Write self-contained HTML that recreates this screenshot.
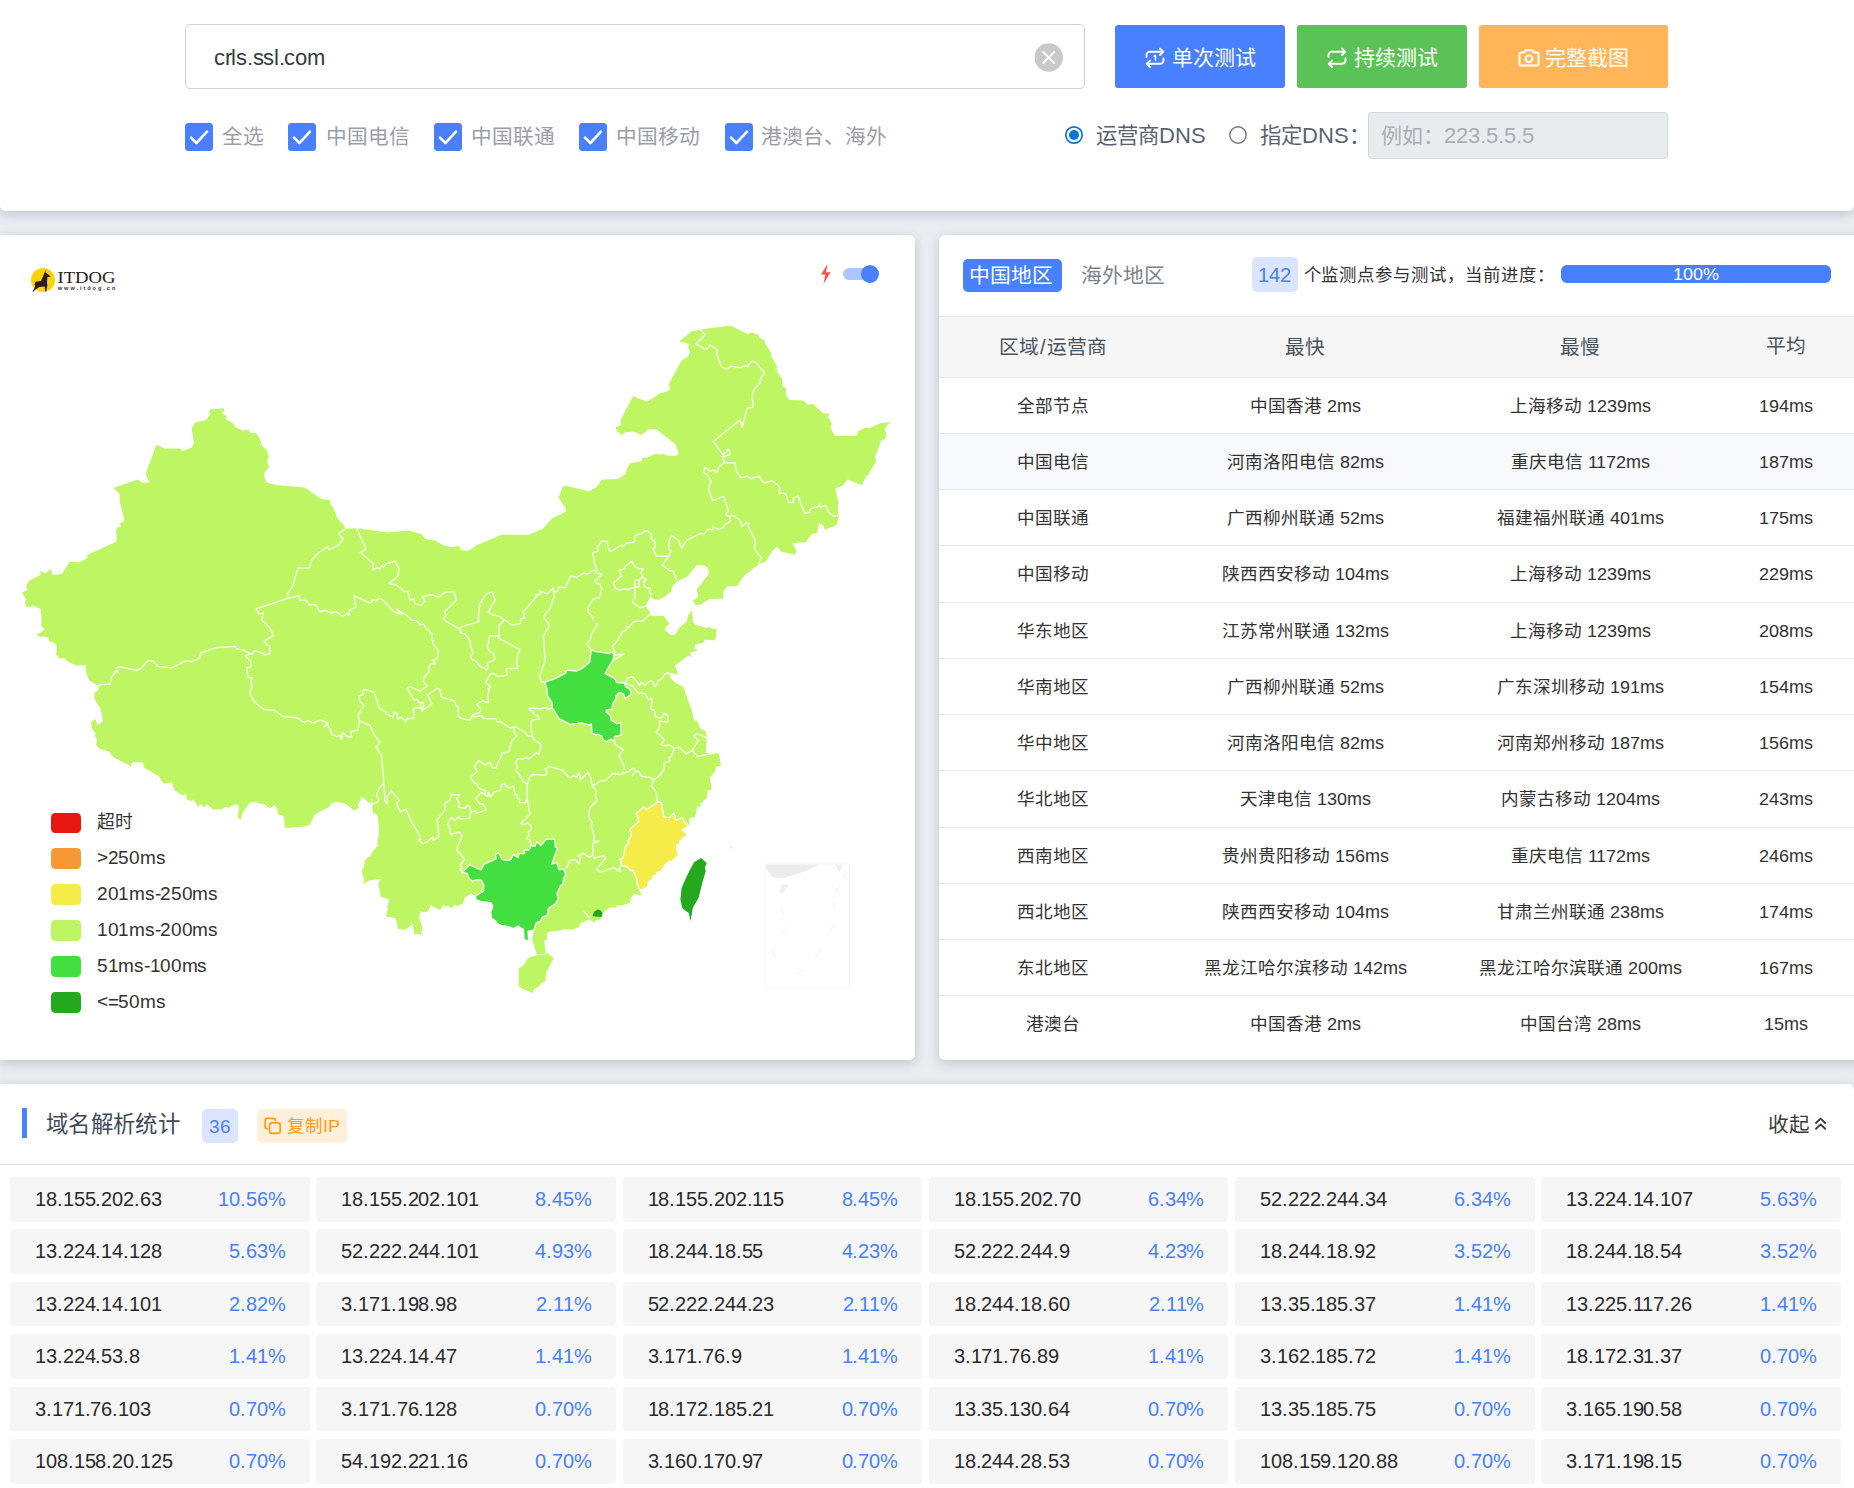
<!DOCTYPE html>
<html lang="zh-CN"><head><meta charset="utf-8"><title>itdog</title><style>
@font-face{font-family:"LS";src:local("Liberation Sans"),local("LiberationSans"),local("LiberationSans-Regular");size-adjust:104%;}
*{box-sizing:border-box;margin:0;padding:0}
html,body{width:1854px;height:1488px;overflow:hidden}
body{background:#e9ecf1;font-family:"LS","Liberation Sans",sans-serif;color:#333;position:relative}
.abs{position:absolute}
.card{position:absolute;background:#fff;box-shadow:0 3px 11px rgba(95,105,125,.30)}
.t{position:absolute;white-space:nowrap;line-height:1}
.cb{position:absolute;top:122.5px;width:28px;height:28px;border-radius:3.5px;background:#4880ff}
.cb svg{position:absolute;left:0;top:0}
.cbl{position:absolute;top:125px;font-size:20.7px;color:#9a9ea8;white-space:nowrap;line-height:24px}
.btn{position:absolute;top:25px;height:62.5px;border-radius:3px;color:#fff;font-size:22px}
.row{position:absolute;left:0;width:915px;height:56.27px;border-bottom:1px solid #e5e9ee}
.row div{position:absolute;top:0;height:55px;line-height:55px;font-size:17.6px;color:#333;text-align:center;white-space:nowrap;transform:translateX(-50%)}
.ip{position:absolute;width:299.6px;height:44.6px;background:#f6f6f7;border-radius:4px;font-size:19.2px;line-height:44px}
.ip b{font-weight:normal;position:absolute;left:25px;top:0;color:#2a2a2a;letter-spacing:-0.1px}
.ip i{font-style:normal;position:absolute;right:24px;top:0;color:#4880ff;letter-spacing:-0.1px}
.lg{position:absolute;left:51px;width:30.3px;height:20.6px;border-radius:4.5px}
.lgt{position:absolute;left:97px;font-size:17.8px;letter-spacing:-0.3px;color:#333;white-space:nowrap;line-height:22px}
</style></head>
<body>

<div class="card" style="left:0;top:235px;width:915px;height:825px;border-radius:0 6px 6px 0;overflow:hidden">
<svg class="abs" style="left:0;top:0" width="915" height="825" viewBox="0 235 915 825">
<g stroke="#fff" stroke-width="1.3" stroke-linejoin="round">
<path d="M40.7 609.3 L32.7 605.2 L29.7 607.2 L26.2 606.8 L25.0 602.0 L26.2 599.5 L21.7 592.3 L27.5 590.3 L26.5 585.5 L29.1 580.5 L41.1 574.8 L39.9 571.2 L45.9 573.2 L50.5 569.1 L52.9 575.3 L62.1 573.7 L69.4 562.0 L79.6 562.2 L87.3 558.0 L87.3 554.7 L116.0 542.1 L116.8 537.6 L116.0 531.6 L117.1 527.5 L121.0 526.7 L119.7 523.5 L124.6 520.7 L119.7 501.7 L119.5 493.6 L113.1 487.9 L137.8 479.5 L142.4 482.7 L149.5 482.6 L145.6 473.8 L156.4 444.7 L164.5 448.6 L179.9 448.6 L182.3 451.2 L191.6 447.6 L194.1 443.4 L191.6 428.0 L195.3 422.4 L206.1 419.9 L210.3 414.6 L209.0 411.8 L210.3 409.4 L223.6 408.3 L224.4 410.6 L221.7 413.1 L227.2 416.4 L225.2 419.1 L233.3 423.5 L235.7 427.5 L242.2 430.5 L248.2 429.6 L250.3 432.9 L256.0 433.2 L259.2 436.9 L261.6 445.0 L266.5 449.9 L268.9 456.3 L267.0 461.2 L269.2 467.3 L264.9 471.7 L264.0 475.8 L266.5 482.6 L276.2 485.0 L304.5 487.6 L321.8 499.2 L330.4 500.0 L330.3 504.6 L333.2 507.8 L338.0 519.4 L343.4 524.6 L345.3 528.8 L356.6 528.3 L388.2 532.4 L407.6 530.5 L421.4 534.0 L424.9 538.9 L435.1 540.5 L443.2 545.3 L451.3 547.3 L459.4 545.7 L459.9 549.7 L467.5 551.3 L477.2 545.0 L501.5 534.8 L529.0 534.8 L542.7 528.8 L552.4 518.2 L566.2 511.4 L565.4 508.1 L558.6 497.6 L562.9 486.8 L565.4 485.5 L588.8 491.6 L596.9 487.1 L601.8 479.6 L617.7 479.1 L625.4 474.2 L627.4 467.8 L630.6 462.9 L641.9 461.3 L642.7 457.2 L646.8 458.1 L654.9 453.7 L660.5 454.5 L663.8 453.7 L666.2 455.3 L675.1 456.1 L679.1 454.3 L675.4 444.6 L657.3 429.7 L648.4 428.9 L641.4 435.1 L633.8 431.4 L625.4 432.2 L621.7 435.1 L616.8 431.0 L615.7 427.0 L620.6 425.7 L620.9 419.2 L633.0 396.2 L647.1 401.7 L659.4 393.7 L669.4 390.6 L669.9 386.1 L668.1 385.2 L673.5 375.5 L681.2 361.0 L688.9 355.8 L690.1 351.3 L688.0 348.0 L689.2 344.8 L685.6 342.4 L680.4 342.4 L680.0 341.1 L691.3 331.4 L700.2 329.4 L730.6 325.4 L748.4 334.6 L750.3 332.3 L758.1 334.6 L759.2 337.8 L765.2 340.4 L764.6 343.2 L768.5 348.0 L769.8 351.7 L771.4 352.9 L771.1 356.1 L777.5 367.4 L774.6 369.5 L777.8 368.6 L777.0 371.2 L781.9 378.8 L782.7 386.9 L786.7 388.5 L785.6 394.1 L789.2 399.8 L802.9 400.6 L808.3 405.1 L812.6 403.4 L823.2 413.6 L829.6 413.6 L828.0 417.1 L832.1 424.1 L830.0 426.8 L835.0 435.9 L857.1 435.7 L857.9 431.4 L864.4 428.1 L870.1 428.1 L880.6 422.9 L891.9 422.0 L887.1 424.9 L884.6 429.7 L886.7 435.4 L884.6 439.4 L881.4 439.9 L874.9 457.2 L876.2 462.1 L870.1 471.0 L868.5 475.4 L866.0 475.9 L862.0 485.2 L847.8 479.6 L842.6 485.6 L835.3 488.5 L838.5 503.4 L837.7 509.8 L838.9 516.3 L836.4 525.2 L825.6 529.3 L829.3 534.1 L824.4 528.4 L823.2 524.9 L819.1 523.6 L817.0 533.0 L811.8 534.1 L805.4 542.2 L792.7 542.9 L796.5 551.0 L794.8 554.6 L781.9 552.1 L777.0 546.8 L773.0 549.7 L765.7 561.8 L759.2 563.9 L743.9 575.9 L737.1 586.1 L726.9 586.6 L723.2 591.8 L723.3 598.6 L709.1 599.1 L701.0 604.4 L695.3 605.0 L692.9 600.7 L698.6 596.6 L696.6 589.8 L709.1 573.7 L707.5 567.5 L703.7 565.1 L696.6 565.1 L687.6 576.4 L677.5 581.3 L672.7 586.1 L670.7 591.8 L664.6 597.0 L657.8 599.9 L652.9 599.1 L650.8 595.8 L645.5 606.0 L650.8 613.6 L651.3 615.7 L663.8 616.1 L669.4 624.1 L665.4 627.4 L664.9 629.8 L670.2 634.7 L675.4 634.7 L678.3 629.0 L686.9 620.9 L688.0 615.2 L692.1 609.9 L692.9 622.5 L696.1 625.0 L706.3 628.2 L709.9 626.6 L710.7 628.7 L716.7 628.7 L715.6 639.0 L713.9 640.3 L704.7 639.8 L703.4 642.8 L695.0 644.4 L694.5 648.4 L697.8 650.8 L689.7 652.5 L692.1 657.8 L688.9 655.2 L675.1 665.4 L678.3 674.6 L670.2 672.7 L669.8 677.5 L675.9 683.2 L683.2 686.4 L692.1 711.5 L693.4 718.8 L697.8 722.0 L700.2 728.5 L705.8 731.7 L707.0 737.4 L705.8 748.7 L706.7 753.3 L717.7 752.3 L719.6 756.8 L720.9 765.7 L716.0 766.5 L715.1 771.4 L709.9 777.8 L711.8 789.7 L707.5 790.2 L706.7 798.8 L703.1 800.4 L703.4 802.4 L700.2 802.4 L701.0 805.9 L697.3 806.9 L695.0 816.9 L688.9 818.5 L689.7 823.4 L689.2 826.3 L682.4 829.5 L686.4 833.9 L685.9 837.2 L681.6 838.8 L684.8 841.2 L680.0 840.4 L679.1 844.8 L676.2 845.2 L678.3 855.0 L671.1 862.2 L669.4 860.9 L664.6 865.5 L660.5 871.6 L657.3 871.9 L656.2 875.2 L653.3 876.0 L652.0 879.7 L648.4 881.7 L647.6 886.2 L643.5 889.4 L639.5 890.1 L641.6 895.4 L634.2 893.8 L631.4 897.0 L629.8 903.0 L620.9 905.6 L616.8 905.1 L616.4 907.5 L608.8 907.2 L609.6 907.8 L602.8 912.4 L601.9 917.1 L600.4 919.2 L595.1 920.8 L594.3 923.0 L589.4 919.2 L580.5 923.2 L578.9 927.2 L571.6 929.7 L564.3 929.2 L559.5 930.5 L547.8 932.1 L546.5 935.3 L547.3 939.9 L544.1 940.2 L545.7 951.5 L544.1 953.9 L536.8 954.4 L532.3 940.2 L533.6 930.2 L527.9 931.1 L528.4 940.8 L524.4 939.7 L523.6 929.7 L523.1 928.4 L520.3 928.1 L518.7 925.6 L513.4 928.5 L507.7 926.4 L501.2 925.6 L497.2 923.7 L495.6 920.8 L491.5 918.3 L490.7 911.9 L492.8 906.2 L490.7 902.7 L481.0 901.7 L476.1 899.7 L475.3 896.5 L471.3 893.3 L464.3 898.1 L463.2 903.3 L457.5 906.2 L454.3 904.6 L451.9 908.6 L447.8 905.4 L445.9 907.0 L443.8 904.6 L440.1 910.3 L430.8 904.9 L428.1 911.4 L423.6 912.4 L421.1 910.7 L419.0 916.7 L422.3 926.9 L421.1 935.0 L417.9 933.7 L414.2 934.5 L413.0 923.7 L405.0 929.7 L398.0 928.9 L395.7 918.3 L385.5 916.2 L388.0 909.4 L387.2 907.8 L389.3 899.4 L380.7 896.5 L378.3 883.6 L380.7 879.0 L370.2 880.3 L362.4 883.9 L364.5 880.3 L362.4 873.9 L361.7 868.7 L363.7 868.2 L365.6 859.0 L371.0 856.1 L371.5 852.8 L375.8 848.0 L377.9 845.5 L377.4 842.3 L379.1 833.4 L377.9 815.9 L375.3 813.2 L373.4 814.0 L372.6 809.1 L371.5 797.8 L370.5 803.9 L361.7 796.5 L358.0 805.1 L358.8 807.8 L354.0 810.7 L346.7 804.3 L335.9 801.4 L331.0 803.9 L329.7 806.7 L320.0 811.6 L314.6 815.0 L310.0 824.2 L306.1 826.3 L285.1 827.9 L283.5 816.1 L277.8 814.2 L277.3 808.5 L274.6 805.3 L269.7 808.2 L264.9 804.5 L254.3 802.0 L249.5 802.8 L242.2 813.4 L240.6 820.6 L237.8 817.1 L239.0 806.1 L235.7 804.1 L228.4 807.7 L225.2 806.4 L222.0 809.3 L213.1 809.6 L206.6 803.7 L205.0 807.4 L199.6 803.7 L198.5 807.7 L193.7 799.3 L192.0 801.2 L186.7 799.6 L186.4 793.9 L181.5 795.1 L174.2 789.9 L171.8 782.3 L163.7 783.8 L158.5 776.1 L144.0 767.6 L143.0 762.4 L132.2 762.1 L130.6 767.6 L129.7 765.6 L113.9 757.5 L109.0 751.4 L99.0 748.6 L95.8 744.3 L97.4 739.7 L94.5 735.7 L95.8 734.1 L92.2 728.7 L90.9 721.9 L95.4 719.0 L97.4 725.2 L103.0 721.1 L100.6 708.7 L94.5 699.3 L94.5 692.5 L98.2 690.4 L98.7 686.0 L88.8 679.9 L86.4 673.4 L85.7 665.0 L77.2 665.8 L68.3 662.1 L64.2 658.0 L59.4 658.8 L56.1 654.8 L57.2 646.7 L54.5 642.7 L49.6 641.8 L48.8 638.1 L44.0 636.2 L40.4 637.0 L35.9 634.2 L40.7 632.9 L44.8 628.9 L41.1 625.7 L41.6 620.0Z" fill="#bef663" stroke="none"/>
<path d="M546.5 952.8 L553.8 958.0 L546.5 971.7 L545.2 981.5 L540.9 983.1 L538.8 986.8 L534.4 988.7 L532.8 992.8 L523.1 989.1 L518.7 986.3 L518.7 968.5 L523.6 965.3 L527.9 958.0 L537.6 955.1 L544.1 954.8Z" fill="#bef663" stroke="none"/>
<path d="M544.3 682.3 L555.7 678.3 L565.4 673.4 L567.0 670.2 L576.7 671.0 L583.2 667.7 L589.6 662.1 L591.3 649.9 L595.0 651.3 L609.6 653.6 L611.2 651.7 L614.4 655.2 L612.5 660.6 L605.0 673.5 L614.4 678.3 L616.8 682.7 L624.9 683.2 L625.4 686.4 L630.3 689.7 L630.9 694.5 L625.4 698.6 L623.3 693.7 L618.9 692.4 L616.0 696.1 L615.7 699.4 L612.8 703.4 L612.0 709.1 L606.3 709.9 L606.3 712.3 L610.4 715.6 L611.2 720.4 L616.8 723.7 L620.9 722.8 L621.2 735.0 L614.4 736.6 L614.1 741.5 L611.2 739.0 L606.3 741.5 L603.1 739.8 L601.5 735.8 L597.4 734.2 L596.1 734.9 L592.1 733.3 L591.3 723.6 L589.6 725.2 L581.6 722.8 L570.2 724.4 L558.9 718.7 L552.1 707.4 L552.1 702.5 L547.6 696.1 L546.8 688.0Z" fill="#43de3f"/>
<path d="M475.3 896.2 L483.4 891.3 L483.8 885.2 L481.5 880.3 L477.8 879.5 L472.1 881.1 L468.9 877.9 L467.2 873.5 L462.1 872.6 L469.7 865.0 L481.0 869.8 L484.2 864.1 L496.1 859.0 L495.6 854.8 L498.3 852.8 L502.0 859.3 L507.7 860.6 L510.9 859.3 L513.4 854.4 L518.2 857.7 L519.0 853.6 L524.7 853.6 L524.2 849.6 L528.7 850.4 L531.2 845.5 L534.9 846.3 L536.8 841.8 L540.9 845.5 L546.5 839.1 L554.6 839.1 L555.4 847.2 L557.5 848.0 L551.7 864.1 L556.6 862.5 L559.2 869.8 L563.5 868.7 L566.0 875.5 L564.0 877.1 L562.7 884.4 L560.3 886.0 L557.1 893.3 L557.9 899.7 L555.4 903.8 L548.2 908.6 L547.3 915.9 L542.5 916.7 L540.9 920.8 L536.0 923.2 L533.9 930.2 L528.1 931.1 L528.6 941.0 L524.2 939.9 L523.4 929.2 L522.3 928.4 L520.3 928.1 L518.7 925.6 L513.4 928.5 L507.7 926.4 L501.2 925.6 L497.2 923.7 L495.6 920.8 L491.5 918.3 L490.7 911.9 L492.8 906.2 L490.7 902.7 L481.0 901.7 L476.1 899.7Z" fill="#43de3f"/>
<path d="M657.3 802.0 L661.3 802.4 L663.8 816.1 L664.9 817.2 L669.4 817.7 L674.0 812.9 L675.9 820.2 L682.4 817.7 L684.8 822.6 L689.2 825.8 L682.4 829.5 L686.4 833.9 L685.9 837.2 L681.6 838.8 L684.8 841.2 L680.0 840.4 L679.1 844.8 L676.2 845.2 L678.3 855.0 L671.1 862.2 L669.4 860.9 L664.6 865.5 L660.5 871.6 L657.3 871.9 L656.2 875.2 L653.3 876.0 L652.0 879.7 L648.4 881.7 L647.6 886.2 L643.5 889.4 L639.5 890.1 L637.1 883.3 L636.7 878.7 L633.0 870.6 L629.8 870.0 L627.4 866.8 L621.7 865.5 L620.1 859.0 L623.3 858.2 L624.9 847.3 L629.0 842.5 L628.2 840.4 L631.4 835.5 L629.8 829.5 L638.7 821.8 L636.3 813.4 L643.5 806.9 L647.1 809.6Z" fill="#f5eb49"/>
<path d="M701.0 857.9 L706.7 863.0 L704.7 867.9 L705.8 871.1 L702.6 881.7 L698.6 897.8 L692.9 907.5 L690.5 921.3 L688.9 913.2 L682.4 908.3 L680.4 899.4 L681.6 888.1 L688.0 873.6 L694.0 862.2Z" fill="#23a81e" stroke="none"/>
<path d="M592.7 916.2 L593.8 911.9 L597.5 909.4 L600.3 910.3 L602.5 912.7 L601.7 916.9Z" fill="#23a81e" stroke="none"/>
</g>
<defs>
<clipPath id="ct1"><rect x="10" y="390" width="290" height="230"/></clipPath>
<clipPath id="ct2"><rect x="300" y="390" width="295" height="230"/></clipPath>
<clipPath id="ct3"><rect x="595" y="310" width="300" height="230"/></clipPath>
<clipPath id="ct4"><rect x="10" y="620" width="290" height="240"/></clipPath>
<clipPath id="ct5"><rect x="300" y="620" width="295" height="230"/></clipPath>
<clipPath id="ct6"><rect x="595" y="540" width="300" height="230"/></clipPath>
<clipPath id="ct8"><rect x="595" y="770" width="300" height="240"/></clipPath>
<clipPath id="ct7"><rect x="300" y="850" width="295" height="170"/></clipPath>
<clipPath id="cz1"><rect x="560" y="820" width="120" height="96"/></clipPath>
</defs>
<path clip-path="url(#ct1)" d="M310.0 567.2 L298.0 568.0 L292.4 586.6 L287.5 593.9 L288.3 598.3 M288.3 598.3 L256.4 608.8 L259.2 614.4 L263.2 612.5 L261.6 621.4 L270.5 630.0 L275.4 636.0 M288.3 598.3 L299.3 595.8 L299.6 600.0 L306.9 601.2 L310.0 605.2" fill="none" stroke="#fff" stroke-opacity="0.82" stroke-width="1.5" stroke-linejoin="round"/>
<path clip-path="url(#ct2)" d="M345.3 528.8 L338.8 533.7 L340.8 536.9 L343.4 538.1 L339.2 544.5 L329.1 550.2 L327.8 546.6 L319.7 551.8 L312.1 559.6 L309.4 567.7 L300.0 568.5 L288.7 568.0 M356.6 528.3 L366.0 549.4 L360.2 552.3 L373.6 563.9 L372.5 569.9 L377.3 567.7 L379.3 569.3 L381.7 565.6 L383.3 567.2 L385.8 563.9 L395.1 561.2 L399.0 568.8 L397.9 576.1 L388.7 583.4 L396.3 585.0 L404.4 591.5 L407.6 591.5 L410.4 600.4 L413.6 598.7 L415.2 603.9 L421.0 605.5 L424.9 601.2 L422.2 596.8 L431.4 594.7 L438.8 597.1 L444.3 592.6 L453.7 591.5 L456.6 600.0 L444.5 611.7 L446.1 615.7 L443.7 618.2 L444.8 621.4 L457.8 628.7 L460.2 630.0 M457.8 628.7 L478.0 622.2 L479.6 604.4 L486.1 593.9 L492.2 591.9 L495.3 600.0 L488.2 612.0 L491.7 614.6 L499.8 616.5 L504.7 620.1 L512.8 625.0 L519.3 623.5 L520.9 618.5 L524.6 618.2 L523.3 612.0 L537.5 595.2 L535.4 595.2 L540.6 593.6 L539.5 590.6 L547.1 593.9 L553.2 587.7 L553.7 591.9 L557.0 591.5 L558.4 587.1 L565.4 587.7 L570.6 575.8 L576.7 577.4 L583.5 573.2 L588.0 574.0 L592.9 570.4 L596.1 569.9 L593.7 559.1 L592.9 552.6 L597.7 550.7 L596.4 546.6 L600.0 542.1 M553.2 587.7 L554.5 595.5 L550.0 608.4 L544.0 615.7 L544.3 619.0 L549.7 624.6 L547.1 630.0 M504.7 620.1 L499.8 624.6 L499.4 630.0 M296.8 599.7 L300.0 600.0 L306.5 600.7 L309.4 604.9 L315.4 604.4 L319.4 611.4 L325.6 610.4 L331.6 613.3 L335.6 611.4 L342.9 616.5 L346.1 614.1 L349.4 614.9 L349.4 610.1 L355.8 607.3 L354.2 595.8 L370.4 603.3 L372.8 599.5 L376.1 600.7 L379.0 598.3 L383.3 600.4 L393.9 611.7 L401.1 614.1 L397.1 609.3 L401.9 613.0 L406.0 614.6 L412.5 621.4 L416.8 621.1 L420.6 625.4 L423.8 623.8 L427.8 630.0 M596.1 569.9 L600.0 574.5 L594.2 580.9 L600.0 584.2 M600.0 598.7 L592.9 599.5 L588.0 607.6 L588.5 613.0 L592.1 615.4 L594.5 623.0 L596.9 624.3 L594.5 630.0" fill="none" stroke="#fff" stroke-opacity="0.82" stroke-width="1.5" stroke-linejoin="round"/>
<path clip-path="url(#ct3)" d="M700.2 329.4 L705.0 335.1 L695.6 344.3 L701.8 346.9 L703.7 349.3 L707.5 348.8 L709.9 344.8 L717.2 349.6 L716.4 352.9 L721.2 366.6 L726.1 369.1 L730.9 366.3 L740.6 367.8 L743.1 366.3 L747.9 366.3 L751.1 361.5 L754.9 361.5 L764.6 373.1 L760.4 378.8 L760.4 382.0 L754.4 389.3 L752.0 395.0 L753.3 407.1 L747.1 408.2 L742.2 427.3 L739.8 420.0 L713.4 441.4 L722.8 454.3 L726.9 451.6 L728.0 448.8 L729.6 450.8 L729.8 454.8 L722.3 456.8 L724.4 462.4 M724.4 462.4 L735.0 462.9 L736.3 471.0 L741.1 477.8 L747.9 476.3 L750.8 478.8 L759.7 476.2 L760.9 479.9 L764.6 482.8 L772.2 481.0 L777.8 484.8 L779.8 488.0 L778.7 492.8 L785.9 493.7 L788.4 502.6 L793.2 502.6 L793.2 498.2 L798.1 496.1 L802.1 507.4 L804.9 513.6 L809.4 512.6 L810.7 508.7 L818.6 506.6 L819.6 504.2 L820.7 507.4 L825.6 505.3 L828.3 511.8 L832.9 516.0 L838.9 515.5 M724.4 462.4 L718.8 467.0 L717.2 472.6 L713.9 469.9 L710.7 471.3 L705.0 467.3 L703.4 472.3 L706.3 473.8 L711.2 481.5 L708.3 488.8 L712.3 500.6 L723.6 496.4 L728.5 510.6 L725.7 514.7 L730.1 516.8 M730.1 516.8 L732.5 515.2 L739.8 519.9 L742.2 526.5 L746.3 522.5 L748.4 522.8 L748.7 527.6 L755.7 541.1 L754.9 543.8 L755.2 550.0 M730.1 516.8 L729.8 522.0 L726.1 523.6 L722.8 527.6 L718.8 529.6 L712.8 526.8 L712.3 529.7 L707.5 529.3 L704.2 534.1 L700.2 533.6 L686.4 540.6 L680.8 548.7 L677.5 539.8 L672.3 535.7 L669.8 538.2 L668.6 550.0 M612.8 550.0 L621.7 544.1 L622.8 545.9 L626.6 543.0 L633.8 543.0 L635.5 534.9 L641.1 534.1 L644.4 531.4 L647.6 530.6 L651.6 534.9 L651.3 539.8 L655.2 540.6 L655.7 547.1 L653.3 550.0" fill="none" stroke="#fff" stroke-opacity="0.82" stroke-width="1.5" stroke-linejoin="round"/>
<path clip-path="url(#ct4)" d="M98.7 686.0 L99.8 684.7 L110.0 683.9 L111.6 677.4 L116.0 670.5 L118.1 672.6 L116.5 668.5 L118.7 666.6 L137.0 670.5 L141.1 668.2 L147.9 660.5 L153.7 661.3 L157.6 666.4 L172.3 667.7 L185.6 660.8 L192.0 661.7 L199.6 658.0 L200.9 652.8 L217.1 647.5 L234.9 646.4 L237.3 649.1 L243.0 649.9 L250.3 653.5 M250.3 653.5 L252.7 654.0 L254.3 650.4 L265.7 654.8 L269.7 654.0 L269.7 645.9 L267.0 645.1 L264.4 641.0 L273.4 635.4 L269.7 627.8 L261.6 620.0 L259.2 616.8 M250.3 653.5 L245.4 655.9 L250.8 661.3 L250.8 666.9 L246.6 667.7 L247.9 677.4 L252.2 677.4 L251.1 680.7 L251.9 687.2 L249.5 693.6 L255.1 702.5 L264.4 709.8 L274.6 710.3 L282.7 716.0 L286.7 717.1 L296.4 717.6 L304.5 722.3 L310.0 721.1" fill="none" stroke="#fff" stroke-opacity="0.82" stroke-width="1.5" stroke-linejoin="round"/>
<path clip-path="url(#ct5)" d="M298.4 720.6 L300.0 720.0 L304.0 722.4 L308.1 720.6 L313.3 723.2 L320.2 719.8 L328.3 723.2 L323.9 726.8 L327.8 724.9 L330.7 730.4 L331.6 734.1 L336.9 736.8 L339.6 735.2 L341.7 739.4 L342.4 732.5 L346.9 736.2 L351.8 737.3 L350.5 731.7 L357.9 730.0 L359.5 721.1 M359.5 721.1 L369.9 725.2 L374.1 734.9 L380.1 742.2 L376.1 746.7 L381.4 755.1 L383.8 782.6 M383.8 782.6 L378.5 789.1 L376.4 796.4 L379.3 799.3 L377.3 802.5 L372.0 804.1 M383.8 782.6 L385.0 801.2 L387.4 803.7 L387.4 796.4 L391.4 790.7 L399.0 800.4 L396.6 803.7 L400.0 811.7 L406.0 809.3 L413.3 825.5 L416.8 830.4 L420.6 839.3 L418.9 840.1 L422.2 843.3 L425.4 843.0 L432.7 837.3 L433.5 840.4 L438.8 836.8 L437.2 819.8 L444.8 810.1 L444.8 803.7 L450.2 799.6 L451.3 794.4 L459.4 794.8 L456.6 798.8 L459.4 802.8 L458.3 806.9 L465.0 808.5 L467.5 805.3 L469.9 806.9 L470.7 811.7 L475.6 810.9 L476.4 813.4 L486.1 810.1 L483.7 804.5 L479.6 803.7 L475.6 798.8 L481.2 792.3 L485.3 794.8 M470.7 811.7 L469.9 818.2 L460.2 819.0 L458.6 816.6 L455.0 820.6 L451.3 817.4 L447.2 824.7 L448.9 825.5 L450.8 834.4 L459.4 832.0 L461.8 836.0 L456.6 849.0 L464.2 860.0 M359.5 721.1 L357.9 715.5 L363.9 705.0 L359.9 701.7 L358.6 695.7 L363.1 694.8 L362.3 691.2 L365.5 689.6 L374.1 692.3 L379.3 708.2 L385.8 712.2 L385.8 713.9 L393.0 717.1 L393.9 712.2 L397.1 713.9 L397.6 719.0 L401.1 717.1 L406.0 721.6 L406.8 719.0 L414.1 717.9 L413.3 708.7 L418.9 707.4 L421.4 709.0 L420.1 703.3 L423.0 702.2 L423.8 705.8 L422.2 710.9 L431.9 703.8 L427.8 695.2 L437.5 688.0 L440.0 689.6 L441.3 697.3 L454.5 700.9 L456.1 705.8 L458.6 707.4 L457.8 715.5 L460.2 717.9 L469.9 720.3 L472.8 714.7 L479.6 712.6 M411.7 620.0 L416.5 620.8 L420.6 624.9 L423.8 624.0 L425.9 628.1 L432.4 634.2 L431.4 640.2 L433.5 641.0 L432.7 642.7 L438.3 651.1 L437.5 658.0 L433.0 660.5 L435.6 663.7 L430.7 663.7 L428.6 667.7 L429.4 671.5 L423.8 677.4 L423.3 681.5 L427.5 685.5 L420.1 691.2 L410.0 686.3 L407.1 688.3 L414.1 700.1 L417.3 699.3 L418.9 702.2 L421.0 702.5 M444.0 620.0 L457.8 628.1 L478.8 621.6 L479.3 616.8 M457.8 628.1 L460.5 629.4 L460.5 632.9 L465.0 633.8 L470.2 641.0 L469.6 642.7 L473.1 653.2 L470.7 656.4 L471.8 659.6 L476.4 661.3 L479.6 666.1 L484.5 668.1 L486.1 670.2 L487.7 668.2 L487.4 662.4 L492.6 661.3 L495.0 658.8 L493.4 653.2 L489.3 651.6 L487.2 645.6 L489.0 641.8 L489.6 635.7 L499.0 635.4 L499.0 624.9 L504.7 620.0 M504.7 620.0 L512.0 625.2 L520.1 623.6 L520.9 620.0 M499.0 635.4 L499.0 638.3 L519.7 649.6 L516.8 658.8 L517.6 668.5 L507.1 668.5 L505.8 670.2 L507.4 674.2 L504.7 675.8 L498.2 676.6 L493.4 673.4 L490.1 674.2 L485.8 682.3 L490.9 687.6 L487.7 688.8 L489.3 689.9 L487.7 695.7 L488.5 702.5 L482.0 700.9 L476.7 704.5 L480.9 709.0 L479.6 712.6 L472.8 714.7 L473.9 717.1 L482.0 715.5 L482.8 717.6 L486.1 718.7 L495.8 718.4 L497.4 722.3 L500.6 721.6 L510.4 728.1 L514.4 726.8 L517.6 727.6 L524.9 732.5 L528.2 736.2 L532.2 736.2 L530.6 723.6 L532.2 720.0 L539.5 719.0 L538.7 716.8 L533.8 713.9 L533.0 711.4 L529.0 709.8 L531.1 707.9 L540.3 708.7 L546.0 707.4 L548.4 709.3 L552.1 707.4 M514.4 726.8 L513.6 731.7 L516.8 736.5 L512.0 740.1 L508.7 751.9 L502.3 753.0 L500.6 757.5 L495.8 768.1 L492.6 768.1 L489.6 762.4 L485.3 764.8 L478.8 760.5 L474.4 766.4 L477.2 771.3 L470.7 777.3 L473.9 782.6 L477.2 783.8 L478.8 788.3 L485.3 790.7 L485.3 794.8 L488.5 796.4 L488.2 792.3 L490.9 797.2 L493.4 792.3 L501.0 789.9 L501.0 785.0 L503.6 783.8 L507.1 785.9 L507.9 788.3 L513.6 786.3 L515.2 794.4 L516.8 794.8 L517.2 798.0 L519.3 798.8 L519.7 802.8 L525.7 802.5 L527.3 798.8 L527.3 784.2 M532.2 736.2 L533.8 739.4 L539.5 743.0 L541.1 747.0 L538.7 754.0 L536.6 752.7 L529.0 758.8 L525.7 757.5 L523.0 759.2 L517.6 758.8 L516.0 761.6 L516.8 767.2 L516.0 771.3 L518.4 772.9 L523.3 781.8 L527.3 784.2 M527.3 784.2 L529.8 776.6 L533.8 774.5 L546.0 775.3 L546.8 772.1 L545.1 768.9 L549.2 766.4 L562.9 770.5 L569.4 777.8 L573.5 776.1 L576.7 777.0 L579.1 772.9 L580.7 779.4 L588.0 772.4 L590.5 777.8 L592.1 785.9 L597.7 781.0 L600.0 780.2 M527.3 798.8 L528.2 804.5 L529.8 814.2 L520.9 823.6 L522.5 824.7 L528.2 823.1 L531.1 826.3 L530.6 830.4 L528.2 832.0 L529.0 835.2 L526.5 838.4 L529.8 840.1 L531.1 845.7 M600.0 798.0 L596.1 789.9 L592.1 785.9 M597.7 799.6 L591.3 806.1 L588.8 810.9 L589.6 819.0 L592.1 822.3 L591.3 826.3 L593.7 833.6 L593.7 841.7 L592.6 845.7 L594.5 854.6 L592.1 860.0 M600.0 840.9 L594.5 842.0 M546.0 620.0 L549.5 624.9 L543.5 636.2 L545.1 660.5 L539.5 676.6 L541.1 681.5 L544.3 682.3 M594.5 620.0 L597.4 624.9 L591.3 634.6 L590.5 639.4 L586.9 643.9 L591.3 649.9" fill="none" stroke="#fff" stroke-opacity="0.82" stroke-width="1.5" stroke-linejoin="round"/>
<path clip-path="url(#ct6)" d="M668.6 540.0 L669.4 549.7 L671.1 550.5 L668.6 556.2 L662.2 565.1 L669.4 570.7 L673.0 570.4 L676.7 580.5 M677.5 536.8 L681.6 548.1 L688.0 538.4 M755.2 540.0 L754.4 548.9 L761.2 557.8 L758.4 563.9 M631.4 561.0 L635.1 566.7 L638.7 568.8 L643.2 568.8 L641.1 572.4 L642.7 577.2 L639.0 579.6 L634.6 580.5 L634.6 587.7 L629.8 588.5 L627.8 590.5 L625.4 588.5 L619.3 590.2 L615.2 588.2 L613.6 582.4 L621.7 575.9 L618.9 570.4 L624.9 568.8 L625.4 565.9 L628.7 563.9 L631.4 561.0 M642.7 577.2 L646.8 579.6 L643.5 581.3 L644.4 586.1 L646.8 588.1 L650.3 588.1 L649.2 591.5 L651.3 595.0 M645.5 606.0 L640.3 608.0 L632.5 602.3 L635.1 596.6 L634.6 587.7 M634.6 580.5 L639.0 579.6 L638.7 586.9 L635.5 586.9 L634.6 580.5 M650.8 613.6 L642.7 620.9 L633.8 621.4 L628.7 627.4 L626.6 626.6 L626.2 630.3 L622.5 631.4 L617.7 640.3 L612.5 646.5 L615.2 653.3 L613.6 655.7 M595.0 563.9 L596.9 569.9 L595.8 572.4 L601.8 574.0 L595.8 580.5 L595.0 581.3 M595.0 582.9 L599.9 584.5 L601.8 589.4 L599.9 597.4 L595.0 598.3 M595.0 552.1 L598.2 551.0 L597.4 546.5 L602.3 540.8 L607.1 541.6 L608.8 550.0 L611.2 551.3 L621.7 544.9 L622.8 546.8 L626.6 542.9 L633.8 542.4 L635.1 540.0 M651.6 540.0 L654.9 541.6 L655.2 547.3 L652.9 548.9 L656.2 556.2 L668.6 556.2 M595.0 623.3 L597.4 624.1 L595.8 628.2 M614.4 655.2 L624.1 654.1 L612.5 660.6 M624.9 683.2 L628.2 677.5 L633.0 676.7 L639.5 685.6 L641.1 682.4 L645.2 684.8 L650.8 680.5 L653.3 682.4 L654.1 686.4 L656.5 685.6 L658.1 680.8 L662.2 678.3 L664.6 674.3 L668.6 672.4 L670.2 674.3 M625.4 683.2 L633.0 686.4 L637.9 692.9 L645.2 693.7 L648.1 699.4 L652.4 698.9 L650.8 709.1 L654.1 709.9 L655.7 717.2 L661.3 718.0 L663.8 713.1 L667.8 715.6 L667.8 722.5 L659.7 720.9 L659.4 727.7 L656.2 732.2 L664.3 739.8 L661.3 744.7 L662.6 745.5 L670.2 745.2 L674.3 748.4 M674.3 748.4 L679.1 747.1 L686.4 753.9 L692.1 750.4 L698.6 740.6 L694.0 736.6 L696.1 733.4 L706.7 737.7 M692.1 750.4 L697.8 756.5 L717.7 752.3 M674.3 748.4 L671.1 756.8 L668.6 757.6 L670.2 760.9 L664.3 763.0 L663.8 769.8 L660.5 774.6 L654.1 780.0 L651.6 782.7 M614.1 741.5 L616.0 745.5 L623.3 749.5 L618.9 756.0 L624.4 766.5 L624.1 773.0 L616.0 773.0 L607.1 780.0 L604.7 782.7 M624.1 773.0 L633.5 768.2 L635.5 770.6 L632.5 775.4 L637.9 774.6 L638.7 770.6 L645.2 776.2 L650.0 777.1 L654.1 780.0" fill="none" stroke="#fff" stroke-opacity="0.82" stroke-width="1.5" stroke-linejoin="round"/>
<path clip-path="url(#ct8)" d="M595.0 785.4 L599.9 781.0 L605.5 780.5 L612.8 773.6 L620.9 774.5 L623.3 772.4 L624.9 773.2 L629.8 770.8 L631.4 768.4 M631.9 776.5 L635.5 770.8 L638.7 771.6 L641.9 776.5 L650.0 777.3 L653.6 780.0 M653.6 780.0 L659.7 775.7 L663.8 770.0 L664.6 768.4 M653.6 780.0 L651.3 785.9 L656.2 791.8 L657.3 802.0 M595.0 789.4 L596.6 791.8 L595.0 795.9 L597.4 799.9 L595.0 803.2 M595.0 841.2 L599.0 841.2 L595.0 842.8" fill="none" stroke="#fff" stroke-opacity="0.82" stroke-width="1.5" stroke-linejoin="round"/>
<path clip-path="url(#ct7)" d="M583.9 911.1 L589.6 918.0 M462.4 835.8 L456.7 849.9 L464.8 859.3 L460.5 864.1 L462.4 868.2 L460.0 868.7 L462.1 872.6 M566.0 868.7 L570.0 860.6 L575.7 859.6 L578.9 864.1 L580.5 857.7 L578.1 856.1 L582.9 853.1 L589.4 857.3 L592.7 855.2 M592.7 855.2 L593.5 849.6 L594.3 842.3 L599.1 841.5 L594.3 840.7 L595.1 833.4 L593.5 832.6 L592.7 826.1 L589.9 822.1 L590.6 819.6 L588.9 814.8 L589.9 807.8 L598.0 800.2 L595.9 795.4 L596.4 790.5 L592.7 786.5 L589.4 780.0" fill="none" stroke="#fff" stroke-opacity="0.82" stroke-width="1.5" stroke-linejoin="round"/>
<path clip-path="url(#cz1)" d="M593.0 855.3 L594.3 858.3 L603.4 855.6 L605.6 858.5 L596.2 869.2 L600.5 872.4 L613.7 867.6 L620.8 872.1 L619.2 867.9 L621.2 865.3" fill="none" stroke="#fff" stroke-opacity="0.82" stroke-width="1.5" stroke-linejoin="round"/>
<rect x="764.8" y="864" width="84.6" height="124" fill="#fff" stroke="#f5f5f5" stroke-width="1"/>
<path d="M766.5 864.5 L819 864.5 L804.5 871.6 L784.3 878 L773 877.6 L765.7 868.7Z" fill="#ececec"/>
<path d="M781 885.2 L788.4 884 L784.3 892.2 L779.5 893.3Z" fill="#efefef"/>
<path d="M835.3 864.6 L842.6 864.6 L839.3 872.7Z" fill="#efefef"/>
<g stroke="#f3f3f3" stroke-width="1.2" fill="none"><path d="M847 872 L843 879"/><path d="M840 885 L835 893"/><path d="M833.8 902 L833.8 910"/><path d="M833 925 L830 931"/><path d="M822 948 L815 958"/><path d="M804 970 L796 974"/><path d="M773 950 L775 957"/><path d="M788 927 L781 934"/><path d="M781 907 L783.5 914"/></g>
<path d="M728 848 L733 845 L731.5 848.8Z" fill="#f0f0f0"/>
</svg>
<svg class="abs" style="left:28px;top:30px" width="92" height="32" viewBox="0 0 92 32">
<circle cx="15" cy="15" r="12" fill="#fcd30a"/>
<path d="M18.6 4 L17.6 7.5 L22.8 11.6 L19.4 12.2 L19 17.5 L19.4 20.5 L18.2 26.5 L17.2 26.5 L16.6 21.5 L11.5 22 L7.5 24.5 L5 27 L4.6 26.2 L7 22 L6.6 19.5 L7.4 16.8 L13 16 L15 11.5 L16.6 7.5 Z" fill="#2a1d1b"/>
<text x="29.5" y="18.2" font-family="'Liberation Serif',serif" font-size="16.4" fill="#2a1d1b" textLength="58" lengthAdjust="spacingAndGlyphs">ITDOG</text>
<text x="29.8" y="25" font-family="'Liberation Sans',sans-serif" font-weight="bold" font-size="5.6" fill="#3a2e2c" textLength="57.5" lengthAdjust="spacing">www.itdog.cn</text>
</svg>
<svg class="abs" style="left:818px;top:27px" width="16" height="24" viewBox="0 0 16 24"><path d="M9.6 2 L3 12.6 L7.4 12.6 L5.4 22 L12.6 10.2 L8 10.2 Z" fill="#ff4f4f"/></svg>
<div class="abs" style="left:843px;top:32.6px;width:33px;height:12px;border-radius:6px;background:#aec6ff"></div>
<div class="abs" style="left:860.5px;top:29.5px;width:18.3px;height:18.3px;border-radius:50%;background:#4880ff"></div>
<div class="lg" style="top:577.5px;background:#e61610"></div><div class="lgt" style="top:576.3px">超时</div><div class="lg" style="top:613.4px;background:#f69833"></div><div class="lgt" style="top:612.2px">&gt;250ms</div><div class="lg" style="top:649.3px;background:#f5eb49"></div><div class="lgt" style="top:648.1px">201ms-250ms</div><div class="lg" style="top:685.2px;background:#bef663"></div><div class="lgt" style="top:684.0px">101ms-200ms</div><div class="lg" style="top:721.1px;background:#43de3f"></div><div class="lgt" style="top:719.9px">51ms-100ms</div><div class="lg" style="top:757.0px;background:#23a81e"></div><div class="lgt" style="top:755.8px">&lt;=50ms</div>
</div>

<div class="card" style="left:939px;top:235px;width:930px;height:825px;border-radius:6px 0 0 6px;overflow:hidden">
<div class="abs" style="left:24px;top:24px;width:99px;height:33px;border-radius:5px;background:#4880ff"></div>
<div class="t" style="left:30.3px;top:29px;font-size:20.8px;color:#fff;line-height:24px">中国地区</div>
<div class="t" style="left:141.5px;top:29.3px;font-size:20.8px;color:#7b838e;line-height:24px">海外地区</div>
<div class="abs" style="left:312.7px;top:22px;width:46px;height:35px;border-radius:5px;background:#dbe5ff"></div>
<div class="t" style="left:312.7px;width:46px;text-align:center;top:28px;font-size:19.6px;color:#4880ff;line-height:24px">142</div>
<div class="t" style="left:364.5px;top:29px;font-size:17.4px;letter-spacing:0.95px;color:#333;line-height:22px">个监测点参与测试，当前进度：</div>
<div class="abs" style="left:621.7px;top:30px;width:270px;height:17.8px;border-radius:6px;background:#4880ff"></div>
<div class="t" style="left:621.7px;width:270px;text-align:center;top:29px;font-size:17.6px;color:#fff;line-height:20px">100%</div>
<div class="abs" style="left:0;top:81px;width:930px;height:61.5px;background:#f6f6f6;border-top:1px solid #e3e8ee;border-bottom:1px solid #e3e8ee"></div>
<div class="t" style="left:114.40000000000009px;top:100px;font-size:19.7px;color:#48535e;line-height:24px;transform:translateX(-50%)">区域<span style="padding:0 1px">/</span>运营商</div>
<div class="t" style="left:366px;top:100px;font-size:19.7px;color:#48535e;line-height:24px;transform:translateX(-50%)">最快</div>
<div class="t" style="left:641px;top:100px;font-size:19.7px;color:#48535e;line-height:24px;transform:translateX(-50%)">最慢</div>
<div class="t" style="left:847px;top:99px;font-size:19.7px;color:#48535e;line-height:24px;transform:translateX(-50%)">平均</div>
<div class="row" style="top:142.50px"><div style="left:114.4px">全部节点</div><div style="left:366.0px">中国香港 2ms</div><div style="left:641.0px">上海移动 1239ms</div><div style="left:847.0px">194ms</div></div><div class="row" style="top:198.77px;background:#f8f9fd"><div style="left:114.4px">中国电信</div><div style="left:366.0px">河南洛阳电信 82ms</div><div style="left:641.0px">重庆电信 1172ms</div><div style="left:847.0px">187ms</div></div><div class="row" style="top:255.04px"><div style="left:114.4px">中国联通</div><div style="left:366.0px">广西柳州联通 52ms</div><div style="left:641.0px">福建福州联通 401ms</div><div style="left:847.0px">175ms</div></div><div class="row" style="top:311.31px"><div style="left:114.4px">中国移动</div><div style="left:366.0px">陕西西安移动 104ms</div><div style="left:641.0px">上海移动 1239ms</div><div style="left:847.0px">229ms</div></div><div class="row" style="top:367.58px"><div style="left:114.4px">华东地区</div><div style="left:366.0px">江苏常州联通 132ms</div><div style="left:641.0px">上海移动 1239ms</div><div style="left:847.0px">208ms</div></div><div class="row" style="top:423.85px"><div style="left:114.4px">华南地区</div><div style="left:366.0px">广西柳州联通 52ms</div><div style="left:641.0px">广东深圳移动 191ms</div><div style="left:847.0px">154ms</div></div><div class="row" style="top:480.12px"><div style="left:114.4px">华中地区</div><div style="left:366.0px">河南洛阳电信 82ms</div><div style="left:641.0px">河南郑州移动 187ms</div><div style="left:847.0px">156ms</div></div><div class="row" style="top:536.39px"><div style="left:114.4px">华北地区</div><div style="left:366.0px">天津电信 130ms</div><div style="left:641.0px">内蒙古移动 1204ms</div><div style="left:847.0px">243ms</div></div><div class="row" style="top:592.66px"><div style="left:114.4px">西南地区</div><div style="left:366.0px">贵州贵阳移动 156ms</div><div style="left:641.0px">重庆电信 1172ms</div><div style="left:847.0px">246ms</div></div><div class="row" style="top:648.93px"><div style="left:114.4px">西北地区</div><div style="left:366.0px">陕西西安移动 104ms</div><div style="left:641.0px">甘肃兰州联通 238ms</div><div style="left:847.0px">174ms</div></div><div class="row" style="top:705.20px"><div style="left:114.4px">东北地区</div><div style="left:366.0px">黑龙江哈尔滨移动 142ms</div><div style="left:641.0px">黑龙江哈尔滨联通 200ms</div><div style="left:847.0px">167ms</div></div><div class="row" style="top:761.47px;border-bottom:none"><div style="left:114.4px">港澳台</div><div style="left:366.0px">中国香港 2ms</div><div style="left:641.0px">中国台湾 28ms</div><div style="left:847.0px">15ms</div></div>
</div>

<div class="card" style="left:0;top:1084px;width:1854px;height:420px;border-radius:0 6px 0 0;overflow:hidden">
<div class="abs" style="left:22px;top:24px;width:5px;height:29.5px;background:#4880ff"></div>
<div class="t" style="left:46px;top:27px;font-size:22.4px;letter-spacing:0.35px;color:#3e4a56;line-height:26px">域名解析统计</div>
<div class="abs" style="left:202px;top:25px;width:35.5px;height:33.5px;border-radius:5px;background:#dbe5ff"></div>
<div class="t" style="left:202px;width:35.5px;text-align:center;top:30px;font-size:18.6px;color:#4880ff;line-height:24px">36</div>
<div class="abs" style="left:257px;top:25px;width:89.5px;height:33.5px;border-radius:5px;background:#ffefdb"></div>
<svg class="abs" style="left:263px;top:32px" width="20" height="20" viewBox="0 0 20 20" fill="none" stroke="#ff9c16" stroke-width="1.7" stroke-linejoin="round" stroke-linecap="round"><rect x="6.6" y="6.8" width="10.6" height="10.6" rx="2.4"/><path d="M4.4 12.6 H4 a1.8 1.8 0 0 1 -1.8 -1.8 V4.2 a1.8 1.8 0 0 1 1.8 -1.8 H10.6 a1.8 1.8 0 0 1 1.8 1.8 V4.6"/></svg>
<div class="t" style="left:286.5px;top:30.5px;font-size:17.6px;color:#ff9c16;line-height:22px">复制IP</div>
<div class="t" style="left:1768px;top:28.5px;font-size:20.6px;color:#3c3c3c;line-height:24px">收起</div>
<svg class="abs" style="left:1813px;top:32px" width="16" height="16" viewBox="0 0 16 16" fill="none" stroke="#3c3c3c" stroke-width="1.9" stroke-linecap="round" stroke-linejoin="round"><path d="M3 7 L7.6 2.6 L12.2 7"/><path d="M3 12.8 L7.6 8.4 L12.2 12.8"/></svg>
<div class="abs" style="left:0;top:80px;width:1854px;height:1px;background:#dfe1ea"></div>
<div class="ip" style="left:10.00px;top:93.0px"><b>18.155.202.63</b><i>10.56%</i></div><div class="ip" style="left:316.25px;top:93.0px"><b>18.155.202.101</b><i>8.45%</i></div><div class="ip" style="left:622.50px;top:93.0px"><b>18.155.202.115</b><i>8.45%</i></div><div class="ip" style="left:928.75px;top:93.0px"><b>18.155.202.70</b><i>6.34%</i></div><div class="ip" style="left:1235.00px;top:93.0px"><b>52.222.244.34</b><i>6.34%</i></div><div class="ip" style="left:1541.25px;top:93.0px"><b>13.224.14.107</b><i>5.63%</i></div><div class="ip" style="left:10.00px;top:145.4px"><b>13.224.14.128</b><i>5.63%</i></div><div class="ip" style="left:316.25px;top:145.4px"><b>52.222.244.101</b><i>4.93%</i></div><div class="ip" style="left:622.50px;top:145.4px"><b>18.244.18.55</b><i>4.23%</i></div><div class="ip" style="left:928.75px;top:145.4px"><b>52.222.244.9</b><i>4.23%</i></div><div class="ip" style="left:1235.00px;top:145.4px"><b>18.244.18.92</b><i>3.52%</i></div><div class="ip" style="left:1541.25px;top:145.4px"><b>18.244.18.54</b><i>3.52%</i></div><div class="ip" style="left:10.00px;top:197.8px"><b>13.224.14.101</b><i>2.82%</i></div><div class="ip" style="left:316.25px;top:197.8px"><b>3.171.198.98</b><i>2.11%</i></div><div class="ip" style="left:622.50px;top:197.8px"><b>52.222.244.23</b><i>2.11%</i></div><div class="ip" style="left:928.75px;top:197.8px"><b>18.244.18.60</b><i>2.11%</i></div><div class="ip" style="left:1235.00px;top:197.8px"><b>13.35.185.37</b><i>1.41%</i></div><div class="ip" style="left:1541.25px;top:197.8px"><b>13.225.117.26</b><i>1.41%</i></div><div class="ip" style="left:10.00px;top:250.2px"><b>13.224.53.8</b><i>1.41%</i></div><div class="ip" style="left:316.25px;top:250.2px"><b>13.224.14.47</b><i>1.41%</i></div><div class="ip" style="left:622.50px;top:250.2px"><b>3.171.76.9</b><i>1.41%</i></div><div class="ip" style="left:928.75px;top:250.2px"><b>3.171.76.89</b><i>1.41%</i></div><div class="ip" style="left:1235.00px;top:250.2px"><b>3.162.185.72</b><i>1.41%</i></div><div class="ip" style="left:1541.25px;top:250.2px"><b>18.172.31.37</b><i>0.70%</i></div><div class="ip" style="left:10.00px;top:302.6px"><b>3.171.76.103</b><i>0.70%</i></div><div class="ip" style="left:316.25px;top:302.6px"><b>3.171.76.128</b><i>0.70%</i></div><div class="ip" style="left:622.50px;top:302.6px"><b>18.172.185.21</b><i>0.70%</i></div><div class="ip" style="left:928.75px;top:302.6px"><b>13.35.130.64</b><i>0.70%</i></div><div class="ip" style="left:1235.00px;top:302.6px"><b>13.35.185.75</b><i>0.70%</i></div><div class="ip" style="left:1541.25px;top:302.6px"><b>3.165.190.58</b><i>0.70%</i></div><div class="ip" style="left:10.00px;top:355.0px"><b>108.158.20.125</b><i>0.70%</i></div><div class="ip" style="left:316.25px;top:355.0px"><b>54.192.221.16</b><i>0.70%</i></div><div class="ip" style="left:622.50px;top:355.0px"><b>3.160.170.97</b><i>0.70%</i></div><div class="ip" style="left:928.75px;top:355.0px"><b>18.244.28.53</b><i>0.70%</i></div><div class="ip" style="left:1235.00px;top:355.0px"><b>108.159.120.88</b><i>0.70%</i></div><div class="ip" style="left:1541.25px;top:355.0px"><b>3.171.198.15</b><i>0.70%</i></div>
</div>

<div class="card" style="left:0;top:0;width:1854px;height:211px;border-radius:0 0 6px 6px"></div>
<div class="abs" style="left:185px;top:24px;width:900px;height:64.5px;border:1px solid #ccd1d9;border-radius:5px;background:#fff"></div>
<div class="t" style="left:214px;top:46.5px;font-size:21px;color:#333b45;letter-spacing:-0.3px">crls.ssl.com</div>
<svg class="abs" style="left:1034px;top:43px" width="30" height="30" viewBox="0 0 30 30"><circle cx="14.7" cy="14.5" r="14.2" fill="#c9c9c9"/><path d="M9.2 9 L20.2 20 M20.2 9 L9.2 20" stroke="#fff" stroke-width="1.9" stroke-linecap="round"/></svg>
<div class="btn" style="left:1115px;width:169.5px;background:#4880ff"></div>
<div class="btn" style="left:1297px;width:169.5px;background:#5bc257"></div>
<div class="btn" style="left:1479px;width:189px;background:#ffb558"></div>
<svg class="abs" style="left:1143px;top:46px" width="24" height="24" viewBox="0 0 24 24" fill="none" stroke="#fff" stroke-width="1.9" stroke-linecap="round" stroke-linejoin="round"><path d="M3.5 11 V9 a3.2 3.2 0 0 1 3.2 -3.2 H20"/><path d="M17 2.6 L20.3 5.8 L17 9"/><path d="M20.5 12.5 V14.6 a3.2 3.2 0 0 1 -3.2 3.2 H4"/><path d="M7 14.6 L3.7 17.8 L7 21"/><path d="M11.2 10.3 L12.5 9.4 V14.6" stroke-width="1.5"/></svg>
<div class="t" style="left:1172px;top:47.2px;font-size:21px;color:#fff">单次测试</div>
<svg class="abs" style="left:1325px;top:46px" width="24" height="24" viewBox="0 0 24 24" fill="none" stroke="#fff" stroke-width="1.9" stroke-linecap="round" stroke-linejoin="round"><path d="M3.5 11 V9 a3.2 3.2 0 0 1 3.2 -3.2 H20"/><path d="M17 2.6 L20.3 5.8 L17 9"/><path d="M20.5 12.5 V14.6 a3.2 3.2 0 0 1 -3.2 3.2 H4"/><path d="M7 14.6 L3.7 17.8 L7 21"/></svg>
<div class="t" style="left:1354px;top:47.2px;font-size:21px;color:#fff">持续测试</div>
<svg class="abs" style="left:1517px;top:46px" width="24" height="24" viewBox="0 0 24 24" fill="none" stroke="#fff" stroke-width="2" stroke-linecap="round" stroke-linejoin="round"><path d="M2.5 8.2 a1.6 1.6 0 0 1 1.6 -1.6 H7 L8.6 4.2 H15.4 L17 6.6 H19.9 a1.6 1.6 0 0 1 1.6 1.6 V18 a1.6 1.6 0 0 1 -1.6 1.6 H4.1 a1.6 1.6 0 0 1 -1.6 -1.6 Z"/><circle cx="12" cy="12.8" r="3.4"/></svg>
<div class="t" style="left:1545px;top:47.2px;font-size:21px;color:#fff">完整截图</div>
<div class="cb" style="left:185px"><svg width="28" height="28" viewBox="0 0 28 28"><path d="M6 14.6 L11.4 20 L22 8.6" fill="none" stroke="#fff" stroke-width="2.6" stroke-linecap="round" stroke-linejoin="round"/></svg></div><div class="cbl" style="left:222px">全选</div>
<div class="cb" style="left:288px"><svg width="28" height="28" viewBox="0 0 28 28"><path d="M6 14.6 L11.4 20 L22 8.6" fill="none" stroke="#fff" stroke-width="2.6" stroke-linecap="round" stroke-linejoin="round"/></svg></div><div class="cbl" style="left:325.5px">中国电信</div>
<div class="cb" style="left:433.7px"><svg width="28" height="28" viewBox="0 0 28 28"><path d="M6 14.6 L11.4 20 L22 8.6" fill="none" stroke="#fff" stroke-width="2.6" stroke-linecap="round" stroke-linejoin="round"/></svg></div><div class="cbl" style="left:471.3px">中国联通</div>
<div class="cb" style="left:578.7px"><svg width="28" height="28" viewBox="0 0 28 28"><path d="M6 14.6 L11.4 20 L22 8.6" fill="none" stroke="#fff" stroke-width="2.6" stroke-linecap="round" stroke-linejoin="round"/></svg></div><div class="cbl" style="left:616.3px">中国移动</div>
<div class="cb" style="left:724.7px"><svg width="28" height="28" viewBox="0 0 28 28"><path d="M6 14.6 L11.4 20 L22 8.6" fill="none" stroke="#fff" stroke-width="2.6" stroke-linecap="round" stroke-linejoin="round"/></svg></div><div class="cbl" style="left:761.3px">港澳台、海外</div>
<svg class="abs" style="left:1064px;top:124.5px" width="20" height="20" viewBox="0 0 20 20"><circle cx="10" cy="10" r="8.2" fill="#fff" stroke="#0a75d8" stroke-width="1.7"/><circle cx="10" cy="10" r="5" fill="#0a75d8"/></svg>
<div class="t" style="left:1096px;top:124px;font-size:21.4px;color:#596273;line-height:24px">运营商DNS</div>
<svg class="abs" style="left:1227.5px;top:124.5px" width="20" height="20" viewBox="0 0 20 20"><circle cx="10" cy="10" r="8.2" fill="#fff" stroke="#767676" stroke-width="1.4"/></svg>
<div class="t" style="left:1260px;top:124px;font-size:21.4px;color:#596273;line-height:24px">指定DNS：</div>
<div class="abs" style="left:1368px;top:112px;width:300px;height:46.5px;background:#e9ecef;border:1px solid #d3d7dd;border-radius:4px"></div>
<div class="t" style="left:1381px;top:124px;font-size:21px;color:#a9adb5;line-height:24px">例如：223.5.5.5</div>

</body></html>
